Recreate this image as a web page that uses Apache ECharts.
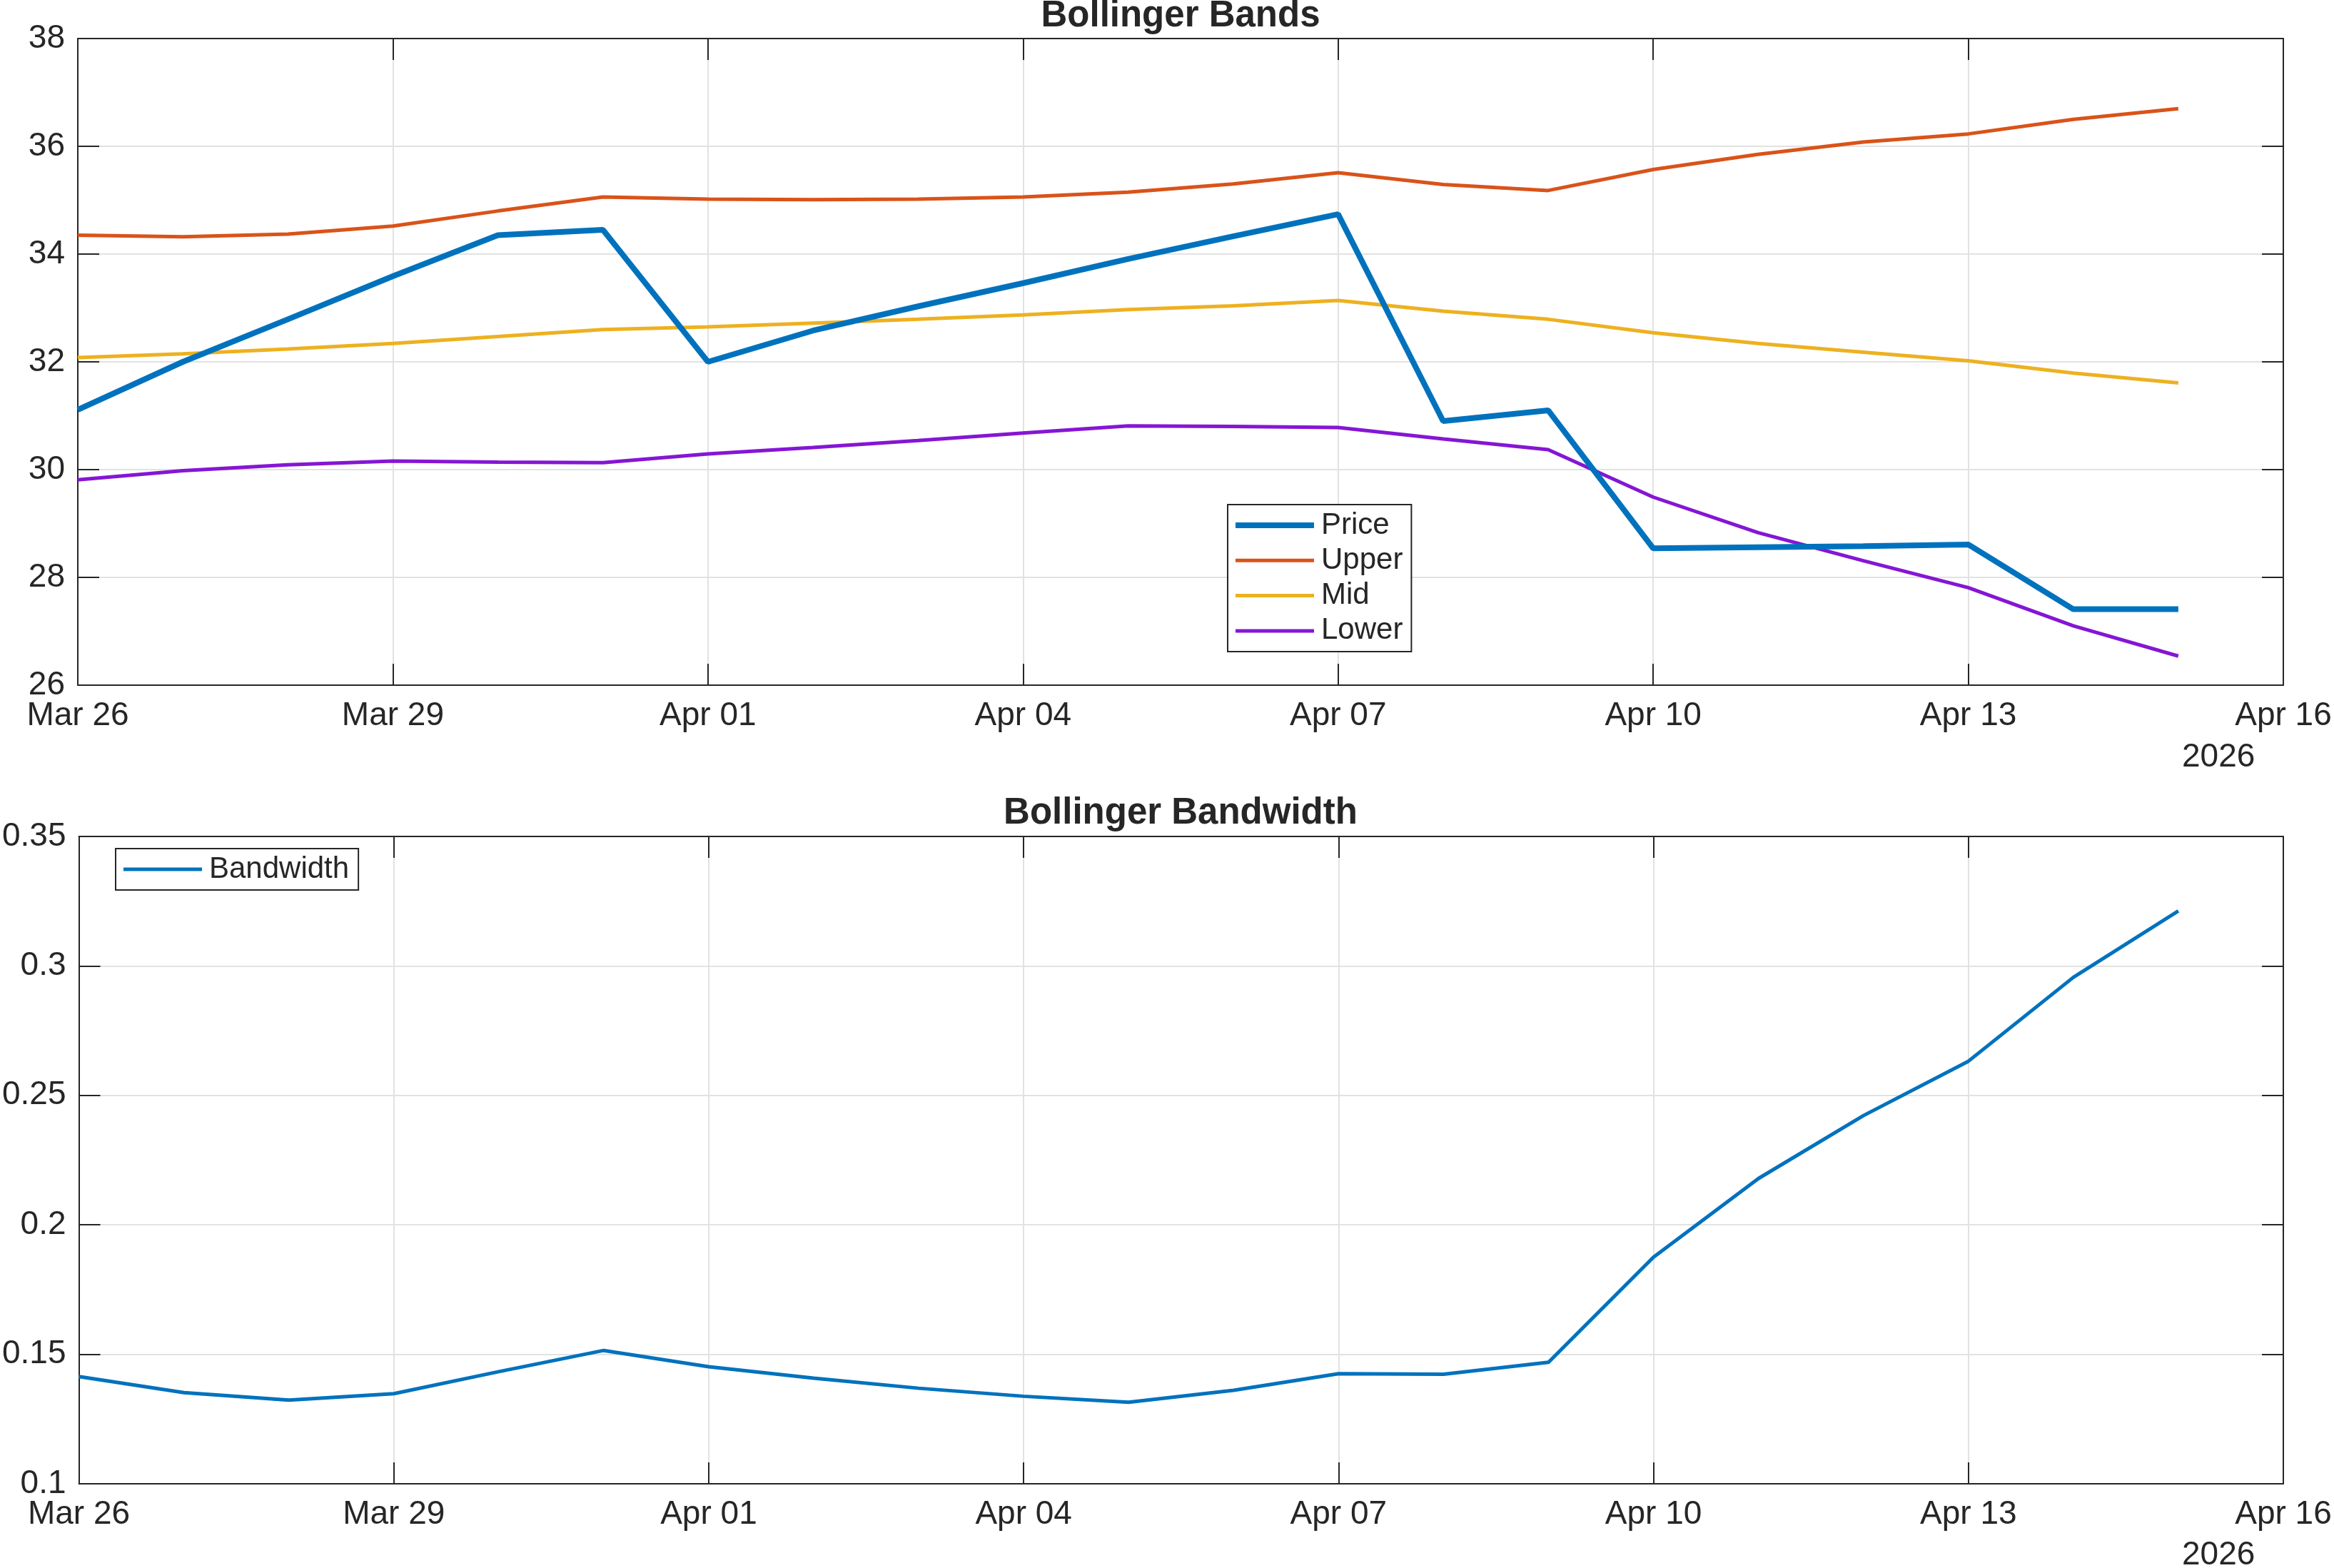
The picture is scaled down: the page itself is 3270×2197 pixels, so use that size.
<!DOCTYPE html>
<html>
<head>
<meta charset="utf-8">
<script src="https://cdn.jsdelivr.net/npm/echarts@6/dist/echarts.min.js"></script>
<style>
  html, body { margin: 0; padding: 0; background: #fff; }
  #chart { width: 3270px; height: 2197px; }
</style>
</head>
<body>
<div id="chart"></div>
<script>
// x axis runs Mar 26 .. Apr 16 (last category has no data)
const days = ['Mar 26', 'Mar 27', 'Mar 28', 'Mar 29', 'Mar 30', 'Mar 31', 'Apr 01', 'Apr 02',
  'Apr 03', 'Apr 04', 'Apr 05', 'Apr 06', 'Apr 07', 'Apr 08', 'Apr 09', 'Apr 10', 'Apr 11',
  'Apr 12', 'Apr 13', 'Apr 14', 'Apr 15', 'Apr 16'];

const price = [31.11, 32.0, 32.79, 33.59, 34.35, 34.45, 32.0, 32.58, 33.03, 33.46, 33.91,
  34.33, 34.74, 30.9, 31.1, 28.54, 28.56, 28.58, 28.61, 27.41, 27.41];
const upper = [34.35, 34.32, 34.37, 34.52, 34.8, 35.06, 35.02, 35.01, 35.02, 35.06, 35.15,
  35.3, 35.51, 35.29, 35.18, 35.57, 35.85, 36.08, 36.23, 36.5, 36.7];
const mid = [32.08, 32.15, 32.24, 32.34, 32.47, 32.6, 32.65, 32.72, 32.79, 32.87, 32.97,
  33.04, 33.14, 32.94, 32.79, 32.54, 32.34, 32.18, 32.02, 31.79, 31.61];
const lower = [29.81, 29.98, 30.09, 30.16, 30.14, 30.13, 30.29, 30.41, 30.54, 30.68, 30.81,
  30.8, 30.78, 30.57, 30.37, 29.49, 28.83, 28.31, 27.81, 27.1, 26.54];
const bandwidth = [0.1414, 0.1352, 0.1323, 0.1348, 0.1433, 0.1515, 0.1452, 0.1408, 0.1369,
  0.1338, 0.1315, 0.1361, 0.1425, 0.1423, 0.1469, 0.1875, 0.2179, 0.2422, 0.2632, 0.2956, 0.3212];

const priceTicks = { min: 26, max: 38, step: 2 };
const bwTicks = { min: 0.1, max: 0.35, step: 0.05 };
const yearLabel = '2026';

const font = 'Liberation Sans, Arial, Helvetica, sans-serif';
const ink = '#262626';
const gridColor = '#e2e2e2';

// legend swatches: plain bars, thick one for price
const thickBar = 'path://M0,0H110V8H0Z';
const thinBar = 'path://M0,0H110V5H0Z';

const chart = echarts.init(document.getElementById('chart'));

function xAxisPair(gridIndex) {
  const base = {
    type: 'category',
    gridIndex: gridIndex,
    data: days,
    boundaryGap: false,
    axisLine: { lineStyle: { color: ink, width: 2 } },
    axisTick: { inside: true, length: 30, interval: 2, lineStyle: { color: ink, width: 2 } }
  };
  return [
    Object.assign({}, base, {
      position: 'bottom',
      axisLabel: { interval: 2, margin: 20, fontSize: 46, color: ink, fontFamily: font },
      splitLine: { show: true, interval: 2, lineStyle: { color: gridColor, width: 2 } }
    }),
    Object.assign({}, base, {
      position: 'top',
      axisLabel: { show: false },
      splitLine: { show: false }
    })
  ];
}

function yAxisPair(gridIndex, t) {
  const base = {
    type: 'value',
    gridIndex: gridIndex,
    min: t.min,
    max: t.max,
    interval: t.step,
    axisLine: { show: true, lineStyle: { color: ink, width: 2 } },
    axisTick: { show: true, inside: true, length: 30, lineStyle: { color: ink, width: 2 } }
  };
  return [
    Object.assign({}, base, {
      position: 'left',
      axisLabel: { margin: 18, fontSize: 46, color: ink, fontFamily: font },
      splitLine: { show: true, lineStyle: { color: gridColor, width: 2 } }
    }),
    Object.assign({}, base, {
      position: 'right',
      axisLabel: { show: false },
      splitLine: { show: false }
    })
  ];
}

function line(name, data, color, width, xi, yi) {
  return {
    name: name,
    type: 'line',
    xAxisIndex: xi,
    yAxisIndex: yi,
    data: data,
    symbol: 'none',
    animation: false,
    lineStyle: { color: color, width: width },
    itemStyle: { color: color }
  };
}

const legendText = { fontSize: 42, color: ink, fontFamily: font, lineHeight: 42, padding: [0, 0, 0, 5] };

const option = {
  backgroundColor: '#fff',
  animation: false,
  title: [
    {
      text: 'Bollinger Bands', left: 1654, top: -3, textAlign: 'center', padding: 0,
      textStyle: { fontSize: 51, fontWeight: 'bold', color: ink, fontFamily: font }
    },
    {
      text: 'Bollinger Bandwidth', left: 1654, top: 1114, textAlign: 'center', padding: 0,
      textStyle: { fontSize: 51, fontWeight: 'bold', color: ink, fontFamily: font }
    }
  ],
  grid: [
    { left: 109, right: 71, top: 54, height: 906 },
    { left: 109, right: 71, top: 1172, height: 907 }
  ],
  legend: [
    {
      data: [
        { name: 'Price', icon: thickBar },
        { name: 'Upper', icon: thinBar },
        { name: 'Mid', icon: thinBar },
        { name: 'Lower', icon: thinBar }
      ],
      orient: 'vertical',
      left: 1720, top: 707,
      itemWidth: 110, itemHeight: 14, itemGap: 7.3,
      padding: [8, 12, 8, 11],
      borderColor: ink, borderWidth: 2, backgroundColor: '#fff',
      textStyle: legendText
    },
    {
      data: [{ name: 'Bandwidth', icon: thinBar }],
      orient: 'vertical',
      left: 162, top: 1189,
      itemWidth: 110, itemHeight: 14,
      padding: [8, 13, 8, 11],
      borderColor: ink, borderWidth: 2, backgroundColor: '#fff',
      textStyle: legendText
    }
  ],
  xAxis: xAxisPair(0).concat(xAxisPair(1)),
  yAxis: yAxisPair(0, priceTicks).concat(yAxisPair(1, bwTicks)),
  series: [
    line('Upper', upper, '#D95319', 5, 0, 0),
    line('Mid', mid, '#EDB120', 5, 0, 0),
    line('Lower', lower, '#8516D4', 5, 0, 0),
    line('Price', price, '#0072BD', 8, 0, 0),
    line('Bandwidth', bandwidth, '#0072BD', 5, 2, 2)
  ],
  graphic: [
    {
      type: 'text', left: 3057, top: 1038,
      style: { text: yearLabel, fontSize: 46, fill: ink, fontFamily: font }
    },
    {
      type: 'text', left: 3057, top: 2156,
      style: { text: yearLabel, fontSize: 46, fill: ink, fontFamily: font }
    }
  ]
};

chart.setOption(option);
</script>
</body>
</html>
